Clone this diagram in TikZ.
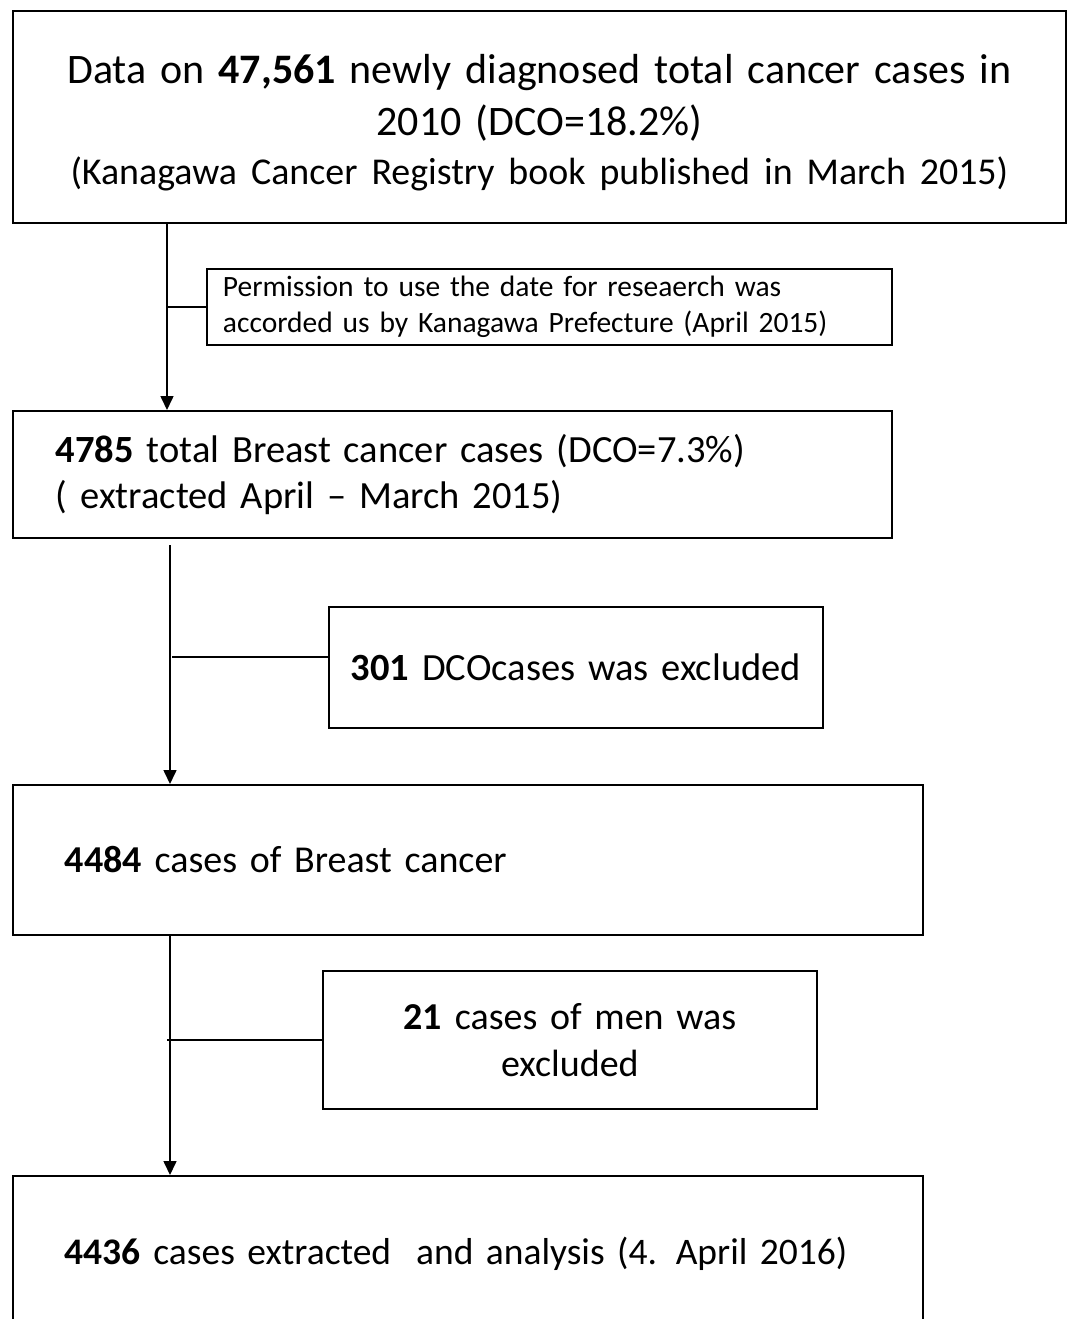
\documentclass[tikz,border=0pt]{standalone}
\usepackage{fontspec}
\setmainfont{Carlito}[WordSpace=0.9]
\usetikzlibrary{arrows.meta}
\begin{document}
\begin{tikzpicture}[x=1pt,y=-1pt,
  box/.style={draw=black, line width=1.8pt, rectangle, anchor=north west, inner ysep=0pt},
  arr/.style={line width=1.6pt, -{Triangle[width=13pt,length=14pt]}},
  branch/.style={line width=1.2pt}]
\useasboundingbox (0,0) rectangle (1068,1319);
\begin{scope}
\clip (0,0) rectangle (1068,1319);
\node[box, minimum width=1053pt, minimum height=212pt, text width=1033pt, inner xsep=10pt, align=center,
  font=\fontsize{42}{52}\selectfont] (b1) at (12,10)
  {\rule{0pt}{40pt}Data on \textbf{47,561} newly diagnosed total cancer cases in\\2010 (DCO=18.2\%)\\[-3pt]{\fontsize{37.9}{48}\selectfont(Kanagawa Cancer Registry book published in March 2015)}};
\node[box, minimum width=685pt, minimum height=76pt, text width=653pt, inner xsep=16pt, align=left,
  font=\fontsize{29.5}{36}\selectfont] (b2) at (206,268)
  {Permission to use the date for reseaerch was\\accorded us by Kanagawa Prefecture (April 2015)};
\node[box, minimum width=879pt, minimum height=127pt, text width=793pt, inner xsep=43pt, align=left,
  font=\fontsize{38.5}{46}\selectfont] (b3) at (12,410)
  {\textbf{4785} total Breast cancer cases (DCO=7.3\%)\\( extracted April -- March 2015)};
\node[box, minimum width=494pt, minimum height=121pt, text width=474pt, inner xsep=10pt, align=center,
  font=\fontsize{38.5}{46}\selectfont] (b4) at (328,606)
  {\textbf{301} DCOcases was excluded};
\node[box, minimum width=910pt, minimum height=150pt, text width=858pt, inner xsep=26pt, align=left,
  font=\fontsize{38}{46}\selectfont] (b5) at (12,784)
  {\hspace*{26pt}\textbf{4484} cases of Breast cancer};
\node[box, minimum width=494pt, minimum height=138pt, text width=474pt, inner xsep=10pt, align=center,
  font=\fontsize{38}{47}\selectfont] (b6) at (322,970)
  {\textbf{21} cases of men was\\excluded};
\node[box, minimum width=910pt, minimum height=156pt, text width=858pt, inner xsep=26pt, align=left,
  font=\fontsize{37.5}{46}\selectfont] (b7) at (12,1175)
  {\hspace*{26pt}\textbf{4436} cases extracted\ \ and analysis (4. April 2016)};
\end{scope}
\coordinate (x1) at (167,0);
\coordinate (x2) at (170,0);
\coordinate (s2) at (170,545);
\coordinate (j2) at (172,657);
\coordinate (j3) at (167,1040);
\draw[arr] (x1 |- b1.south) -- (x1 |- b3.north);
\draw[branch] (x1 |- b2.west) -- (b2.west);
\draw[arr] (s2) -- (x2 |- b5.north);
\draw[branch] (j2) -- (j2 -| b4.west);
\draw[arr] (x2 |- b5.south) -- (x2 |- b7.north);
\draw[branch] (j3) -- (j3 -| b6.west);
\end{tikzpicture}
\end{document}
